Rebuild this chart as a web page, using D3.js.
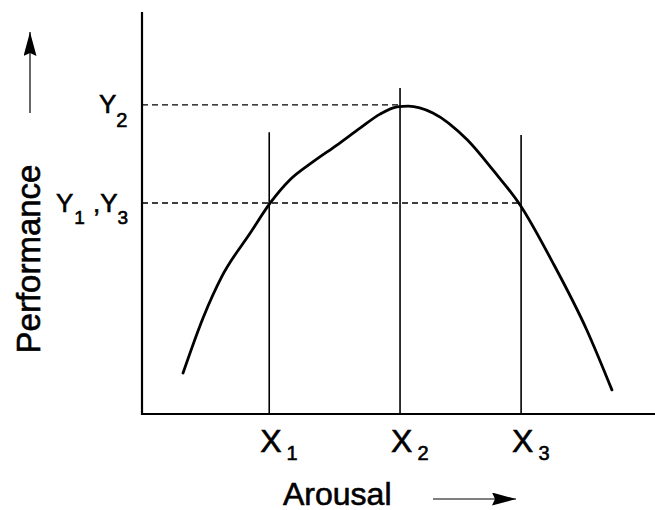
<!doctype html>
<head>
  <meta charset="utf-8">
  <script src="https://cdnjs.cloudflare.com/ajax/libs/d3/7.8.2/d3.min.js"></script>
</head>
<style>
    body { margin: 0; background: #fff; }
    svg text { font-family: "Liberation Sans", Arial, sans-serif; fill: #000; stroke: #000; stroke-width: 0.6px; }
</style>
<body>
    <div id="chart"></div>
    <script>
        // Curva de rendimiento (unidades arbitrarias 0-10)
        const curveX = [0.80, 1.19, 1.56, 2.11, 2.50, 2.88, 3.33, 3.80, 4.25, 4.64, 4.97, 5.19, 5.67, 6.34, 6.84, 7.37, 8.01, 8.67, 9.16];
        const curveY = [1.02, 2.39, 3.43, 4.50, 5.25, 5.82, 6.27, 6.69, 7.11, 7.46, 7.64, 7.66, 7.49, 6.82, 6.07, 5.20, 3.76, 2.09, 0.60];

        // Marcas en el eje X y niveles en Y
        const markerLabels = ["1", "2", "3"];
        const markerX = [2.48, 5.03, 7.39];
        const markerTop = [7.01, 8.11, 6.94];
        const levelY = [7.69, 5.25];
        const levelEnd = [5.03, 7.39];

        const width = 655, height = 510;
        const svg = d3.select('#chart').append('svg')
            .attr('width', width)
            .attr('height', height);

        const x = d3.scaleLinear().domain([0, 10]).range([142, 655]);
        const y = d3.scaleLinear().domain([0, 10]).range([414, 12]);

        // Líneas verticales
        svg.selectAll('.vline')
            .data(markerX)
            .enter()
            .append('line')
            .attr('x1', d => x(d)).attr('x2', d => x(d))
            .attr('y1', y(0)).attr('y2', (d, i) => y(markerTop[i]))
            .attr('stroke', '#000')
            .attr('stroke-width', 1.6);

        // Líneas discontinuas
        svg.selectAll('.hline')
            .data(levelY)
            .enter()
            .append('line')
            .attr('x1', x(0)).attr('x2', (d, i) => x(levelEnd[i]))
            .attr('y1', d => y(d)).attr('y2', d => y(d))
            .attr('stroke', '#000')
            .attr('stroke-width', 1.4)
            .attr('stroke-dasharray', '6,4');

        // Curva
        const line = d3.line()
            .x(d => x(d[0]))
            .y(d => y(d[1]))
            .curve(d3.curveMonotoneX);
        svg.append('path')
            .attr('d', line(d3.zip(curveX, curveY)))
            .attr('fill', 'none')
            .attr('stroke', '#000')
            .attr('stroke-width', 2.8)
            .attr('stroke-linecap', 'round');

        // Ejes
        svg.append('path')
            .attr('d', `M${x(0)},${y(10)}V${y(0)}H${x(10)}`)
            .attr('fill', 'none')
            .attr('stroke', '#000')
            .attr('stroke-width', 2.2);

        // Etiquetas X
        markerX.forEach((d, i) => {
            const t = svg.append('text')
                .attr('x', x(d) - 9)
                .attr('y', 452)
                .attr('font-size', 32);
            t.append('tspan').text('X');
            t.append('tspan').attr('dx', 5).attr('dy', 8).attr('font-size', 20).text(markerLabels[i]);
        });

        // Etiquetas Y
        const ty2 = svg.append('text').attr('x', 99).attr('y', 113).attr('font-size', 26);
        ty2.append('tspan').text('Y');
        ty2.append('tspan').attr('dy', 14).attr('font-size', 20).text('2');

        const ty13 = svg.append('text').attr('x', 56).attr('y', 212).attr('font-size', 26);
        ty13.append('tspan').text('Y');
        ty13.append('tspan').attr('dx', 1).attr('dy', 12).attr('font-size', 19).text('1');
        ty13.append('tspan').attr('dx', 8).attr('dy', -12).text(',');
        ty13.append('tspan').text('Y');
        ty13.append('tspan').attr('dy', 12).attr('font-size', 19).text('3');

        // Títulos de ejes
        svg.append('text')
            .attr('transform', 'translate(40,259) rotate(-90)')
            .attr('text-anchor', 'middle')
            .attr('font-size', 33)
            .text('Performance');

        svg.append('text')
            .attr('x', 283)
            .attr('y', 505)
            .attr('font-size', 32)
            .text('Arousal');

        // Flechas
        svg.append('defs').append('marker')
            .attr('id', 'arrow')
            .attr('viewBox', '0 0 24 13')
            .attr('refX', 24).attr('refY', 6.5)
            .attr('markerWidth', 24).attr('markerHeight', 13)
            .attr('markerUnits', 'userSpaceOnUse')
            .attr('orient', 'auto')
            .append('path')
            .attr('d', 'M0,0L24,6.5L0,13L3,6.5Z')
            .attr('fill', '#000');

        svg.append('line')
            .attr('x1', 30).attr('y1', 113)
            .attr('x2', 30).attr('y2', 32)
            .attr('stroke', '#000').attr('stroke-width', 1.2)
            .attr('marker-end', 'url(#arrow)');

        svg.append('line')
            .attr('x1', 433).attr('y1', 499)
            .attr('x2', 516).attr('y2', 499)
            .attr('stroke', '#000').attr('stroke-width', 1.2)
            .attr('marker-end', 'url(#arrow)');
    </script>
</body>
